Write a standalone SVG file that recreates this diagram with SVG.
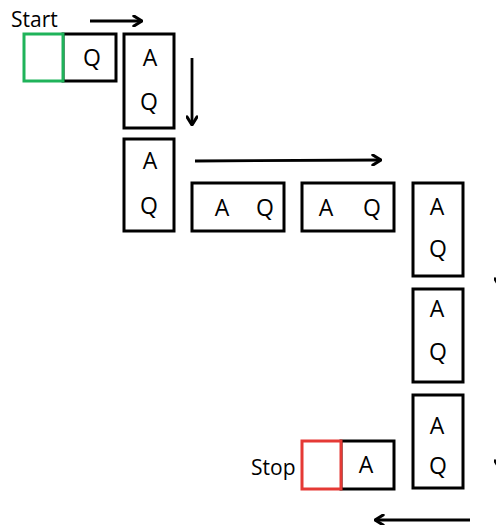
<svg xmlns="http://www.w3.org/2000/svg" width="496" height="525" viewBox="0 0 496 525">
<style>
.box{fill:#fff;stroke:#000;stroke-width:3}
.g{fill:#fff;stroke:#1fb35a;stroke-width:3}
.r{fill:#fff;stroke:#e53935;stroke-width:3}
.t{font-family:"Open Sans","Liberation Sans",sans-serif;font-size:23px;fill:#000;text-anchor:middle}
.l{font-family:"Open Sans","Liberation Sans",sans-serif;font-size:21px;fill:#000}
.c{fill:none;stroke:#000;stroke-width:2.8}
</style>
<defs>
<marker id="ah" viewBox="0 0 10 10" refX="9" refY="5" markerWidth="4.5" markerHeight="4.5" orient="auto" markerUnits="strokeWidth">
<polyline points="2.5,1 9,5 2.5,9" fill="none" stroke="#000" stroke-width="2.4" stroke-linecap="round" stroke-linejoin="round"/>
</marker>
</defs>
<rect width="496" height="525" fill="#fff"/>
<g id="connectors">
<line class="c" x1="90" y1="21" x2="142" y2="21" marker-end="url(#ah)"/>
<line class="c" x1="192" y1="58" x2="192" y2="125" marker-end="url(#ah)"/>
<line class="c" x1="195" y1="161" x2="381" y2="160" marker-end="url(#ah)"/>
<line class="c" x1="500" y1="190" x2="500" y2="287" marker-end="url(#ah)"/>
<line class="c" x1="500" y1="380" x2="500" y2="469" marker-end="url(#ah)"/>
<line class="c" x1="470" y1="520" x2="375" y2="520" marker-end="url(#ah)"/>
</g>
<g id="start-label"><text class="l" x="11" y="27">Start</text></g>
<g id="n0">
<rect class="box" x="63" y="34" width="53" height="47"/>
<rect class="g" x="24" y="34" width="39" height="47"/>
<text class="t" x="92" y="66">Q</text>
</g>
<g id="n1">
<rect class="box" x="124" y="34" width="50" height="94"/>
<text class="t" x="150" y="66">A</text>
<text class="t" x="149" y="110">Q</text>
</g>
<g id="n2">
<rect class="box" x="124" y="139" width="50" height="92"/>
<text class="t" x="150" y="169">A</text>
<text class="t" x="149" y="214">Q</text>
</g>
<g id="n3">
<rect class="box" x="192" y="183" width="92" height="48"/>
<text class="t" x="222" y="216">A</text>
<text class="t" x="265" y="216">Q</text>
</g>
<g id="n4">
<rect class="box" x="302" y="183" width="92" height="48"/>
<text class="t" x="326" y="216">A</text>
<text class="t" x="372" y="216">Q</text>
</g>
<g id="n5">
<rect class="box" x="413" y="183" width="50" height="93"/>
<text class="t" x="437" y="215">A</text>
<text class="t" x="438" y="257">Q</text>
</g>
<g id="n6">
<rect class="box" x="413" y="289" width="50" height="93"/>
<text class="t" x="437" y="317">A</text>
<text class="t" x="438" y="360">Q</text>
</g>
<g id="n7">
<rect class="box" x="413" y="395" width="50" height="93"/>
<text class="t" x="437" y="434">A</text>
<text class="t" x="438" y="474">Q</text>
</g>
<g id="n8">
<rect class="box" x="341" y="441" width="53" height="48"/>
<rect class="r" x="302" y="441" width="39" height="48"/>
<text class="t" x="366" y="473">A</text>
</g>
<g id="stop-label"><text class="l" x="251" y="475">Stop</text></g>
</svg>
